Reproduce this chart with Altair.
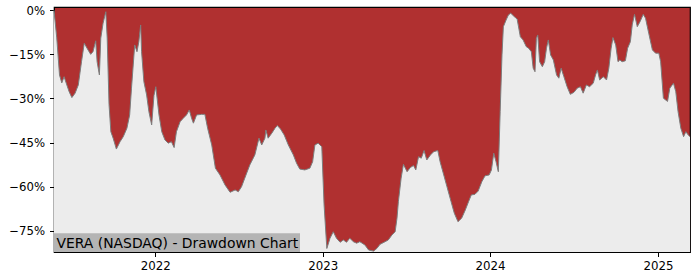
import altair as alt
import pandas as pd

# Drawdown series (date, drawdown in %)
dates = [
    "2021-05-25", "2021-05-31", "2021-06-06", "2021-06-11", "2021-06-16", "2021-06-22",
    "2021-06-27", "2021-07-03", "2021-07-10", "2021-07-17", "2021-07-24", "2021-07-30",
    "2021-08-05", "2021-08-13", "2021-08-18", "2021-08-24", "2021-08-27", "2021-09-01",
    "2021-09-04", "2021-09-09", "2021-09-15", "2021-09-18", "2021-09-22", "2021-09-26",
    "2021-10-01", "2021-10-08", "2021-10-16", "2021-10-23", "2021-10-31", "2021-11-06",
    "2021-11-10", "2021-11-17", "2021-11-22", "2021-11-26", "2021-11-30", "2021-12-02",
    "2021-12-07", "2021-12-13", "2021-12-18", "2021-12-24", "2021-12-29", "2022-01-02",
    "2022-01-09", "2022-01-15", "2022-01-22", "2022-01-29", "2022-02-05", "2022-02-11",
    "2022-02-16", "2022-02-24", "2022-03-03", "2022-03-10", "2022-03-16", "2022-03-21",
    "2022-03-25", "2022-04-01", "2022-04-12", "2022-04-19", "2022-04-25", "2022-05-04",
    "2022-05-12", "2022-05-22", "2022-06-02", "2022-06-13", "2022-06-24", "2022-07-01",
    "2022-07-08", "2022-07-15", "2022-07-26", "2022-08-06", "2022-08-15", "2022-08-21",
    "2022-08-28", "2022-08-30", "2022-09-04", "2022-09-12", "2022-09-19", "2022-09-24",
    "2022-10-01", "2022-10-09", "2022-10-18", "2022-10-29", "2022-11-05", "2022-11-12",
    "2022-11-23", "2022-12-04", "2022-12-10", "2022-12-15", "2022-12-22", "2022-12-30",
    "2023-01-04", "2023-01-10", "2023-01-17", "2023-01-24", "2023-01-31", "2023-02-08",
    "2023-02-15", "2023-02-22", "2023-03-01", "2023-03-09", "2023-03-16", "2023-03-23",
    "2023-04-03", "2023-04-11", "2023-04-22", "2023-04-29", "2023-05-06", "2023-05-17",
    "2023-05-24", "2023-06-01", "2023-06-08", "2023-06-12", "2023-06-15", "2023-06-21",
    "2023-06-26", "2023-07-04", "2023-07-11", "2023-07-18", "2023-07-23", "2023-07-29",
    "2023-08-04", "2023-08-10", "2023-08-16", "2023-08-24", "2023-08-31", "2023-09-09",
    "2023-09-14", "2023-09-22", "2023-09-29", "2023-10-08", "2023-10-15", "2023-10-23",
    "2023-10-31", "2023-11-08", "2023-11-15", "2023-11-21", "2023-11-29", "2023-12-06",
    "2023-12-14", "2023-12-21", "2023-12-30", "2024-01-04", "2024-01-09", "2024-01-14",
    "2024-01-19", "2024-01-23", "2024-01-27", "2024-01-30", "2024-02-05", "2024-02-10",
    "2024-02-15", "2024-02-23", "2024-02-29", "2024-03-07", "2024-03-13", "2024-03-20",
    "2024-03-25", "2024-03-31", "2024-04-04", "2024-04-08", "2024-04-11", "2024-04-14",
    "2024-04-18", "2024-04-24", "2024-04-29", "2024-05-03", "2024-05-07", "2024-05-12",
    "2024-05-18", "2024-05-25", "2024-05-30", "2024-06-04", "2024-06-10", "2024-06-17",
    "2024-06-24", "2024-07-02", "2024-07-09", "2024-07-16", "2024-07-22", "2024-07-29",
    "2024-08-05", "2024-08-13", "2024-08-18", "2024-08-22", "2024-08-27", "2024-09-04",
    "2024-09-11", "2024-09-16", "2024-09-21", "2024-09-25", "2024-10-01", "2024-10-06",
    "2024-10-10", "2024-10-15", "2024-10-22", "2024-10-27", "2024-11-02", "2024-11-06",
    "2024-11-11", "2024-11-17", "2024-11-23", "2024-11-30", "2024-12-05", "2024-12-12",
    "2024-12-20", "2024-12-27", "2025-01-03", "2025-01-07", "2025-01-13", "2025-01-22",
    "2025-01-27", "2025-02-04", "2025-02-09", "2025-02-14", "2025-02-20", "2025-02-26",
    "2025-03-03", "2025-03-08", "2025-03-12",
]
drawdown = [
    0.0, -9.4, -22.0, -24.7, -22.6, -25.4,
    -27.7, -29.7, -28.2, -25.4, -17.5, -11.2,
    -12.9, -15.0, -14.1, -10.4, -17.5, -22.0,
    -9.5, -4.4, -0.5, -9.4, -32.0, -41.3,
    -43.5, -47.2, -44.7, -43.0, -40.1, -35.6,
    -26.5, -11.8, -14.1, -10.7, -5.0, -14.1,
    -24.3, -28.8, -34.5, -39.0, -29.0, -26.0,
    -35.6, -41.3, -44.1, -45.2, -44.7, -46.7,
    -41.3, -37.9, -36.7, -35.6, -33.9, -36.7,
    -38.4, -35.6, -35.4, -35.4, -40.1, -45.8,
    -53.7, -56.0, -59.4, -61.9, -61.1, -61.7,
    -60.0, -57.1, -52.6, -49.2, -43.5, -45.8,
    -43.5, -40.7, -43.5, -41.8, -40.1, -39.2,
    -40.4, -42.4, -45.8, -49.2, -52.0, -54.0,
    -54.3, -53.7, -51.5, -45.8, -45.2, -46.4,
    -66.2, -81.0, -77.5, -75.3, -77.5, -78.9,
    -78.1, -78.9, -77.5, -78.7, -79.2, -78.7,
    -79.8, -81.5, -81.9, -81.0, -79.6, -78.7,
    -78.1, -76.4, -75.3, -70.7, -65.1, -57.1,
    -52.4, -54.9, -53.5, -52.8, -54.3, -49.8,
    -50.3, -47.7, -50.9, -49.2, -48.1, -47.7,
    -51.5, -56.0, -60.0, -65.1, -69.0, -71.9,
    -70.7, -67.9, -65.1, -62.8, -62.6, -61.5,
    -58.3, -56.3, -56.0, -54.3, -48.6, -51.5,
    -54.9, -34.5, -15.2, -5.6, -3.3, -1.6,
    -1.0, -2.2, -3.0, -9.0, -10.1, -12.4,
    -12.9, -14.1, -19.7, -20.9, -9.5, -8.4,
    -17.5, -19.2, -17.5, -12.9, -10.1, -15.2,
    -16.9, -22.0, -23.1, -19.7, -22.6, -26.0,
    -28.6, -27.9, -26.5, -26.0, -28.2, -25.4,
    -26.0, -24.8, -22.0, -20.3, -23.7, -22.6,
    -23.7, -19.7, -12.9, -9.3, -11.8, -17.5,
    -16.9, -17.5, -17.2, -12.9, -10.7, -5.0,
    -1.4, -5.6, -3.9, -1.4, -2.7, -7.8,
    -13.5, -14.6, -14.6, -17.5, -29.9, -31.0,
    -26.5, -24.8, -27.7, -34.5, -40.1, -43.0,
    -41.3, -42.4, -43.0,
]
y_ticks = [-75, -60, -45, -30, -15, 0]
x_tick_years = [2022, 2023, 2024, 2025]
title_text = "VERA (NASDAQ) - Drawdown Chart"

Y_MIN, Y_MAX = -82.2, 1.1
W, H = 636, 245
RED = "#b03030"
LIGHT = "#ececec"

df = pd.DataFrame({"date": [d + "T00:00:00" for d in dates], "dd": drawdown})

x_enc = alt.X(
    "date:T",
    scale=alt.Scale(domain=[alt.DateTime(year=2021, month=5, date=25),
                            alt.DateTime(year=2025, month=3, date=12)], nice=False),
    axis=alt.Axis(
        values=[alt.DateTime(year=y, month=1, date=1) for y in x_tick_years],
        format="%Y", title=None, grid=False, labelFont="DejaVu Sans", labelFontSize=11.8,
        labelColor="black", tickColor="black", domainColor="black", tickSize=4.5,
        labelPadding=4, labelAngle=0,
    ),
)
y_scale = alt.Scale(domain=[Y_MIN, Y_MAX], nice=False, zero=False)
y_enc = alt.Y(
    "dd:Q", scale=y_scale,
    axis=alt.Axis(
        values=y_ticks, format=".0f", labelExpr="datum.label + '%'", title=None, grid=False,
        labelFont="DejaVu Sans", labelFontSize=11.7, labelColor="black", tickColor="black",
        domainColor="black", tickSize=4.5, labelPadding=5,
    ),
)

area = alt.Chart(df).mark_area(color=LIGHT, opacity=1).encode(
    x=x_enc, y=y_enc, y2=alt.datum(Y_MIN)
)
line = alt.Chart(df).mark_line(color="#7d7d7d", strokeWidth=1).encode(
    x=alt.X("date:T"), y=alt.Y("dd:Q")
)

label_df = pd.DataFrame({"t": [title_text]})
box = alt.Chart(label_df).mark_rect(color="#b4b4b4").encode(
    x=alt.value(0), x2=alt.value(246), y=alt.value(226.3), y2=alt.value(H)
)
txt = alt.Chart(label_df).mark_text(
    align="left", baseline="alphabetic", font="DejaVu Sans", fontSize=13.9, color="black"
).encode(x=alt.value(2.5), y=alt.value(240.5), text="t:N")

chart = (
    alt.layer(area, line, box, txt)
    .properties(width=W, height=H, background="white",
                padding={"left": 54, "top": 7, "right": 10, "bottom": 28},
                autosize=alt.AutoSizeParams(type="none"))
    .configure_view(fill=RED, stroke="black", strokeWidth=1.2)
)

chart.save("out.html", embed_options={"renderer": "svg", "actions": False})
